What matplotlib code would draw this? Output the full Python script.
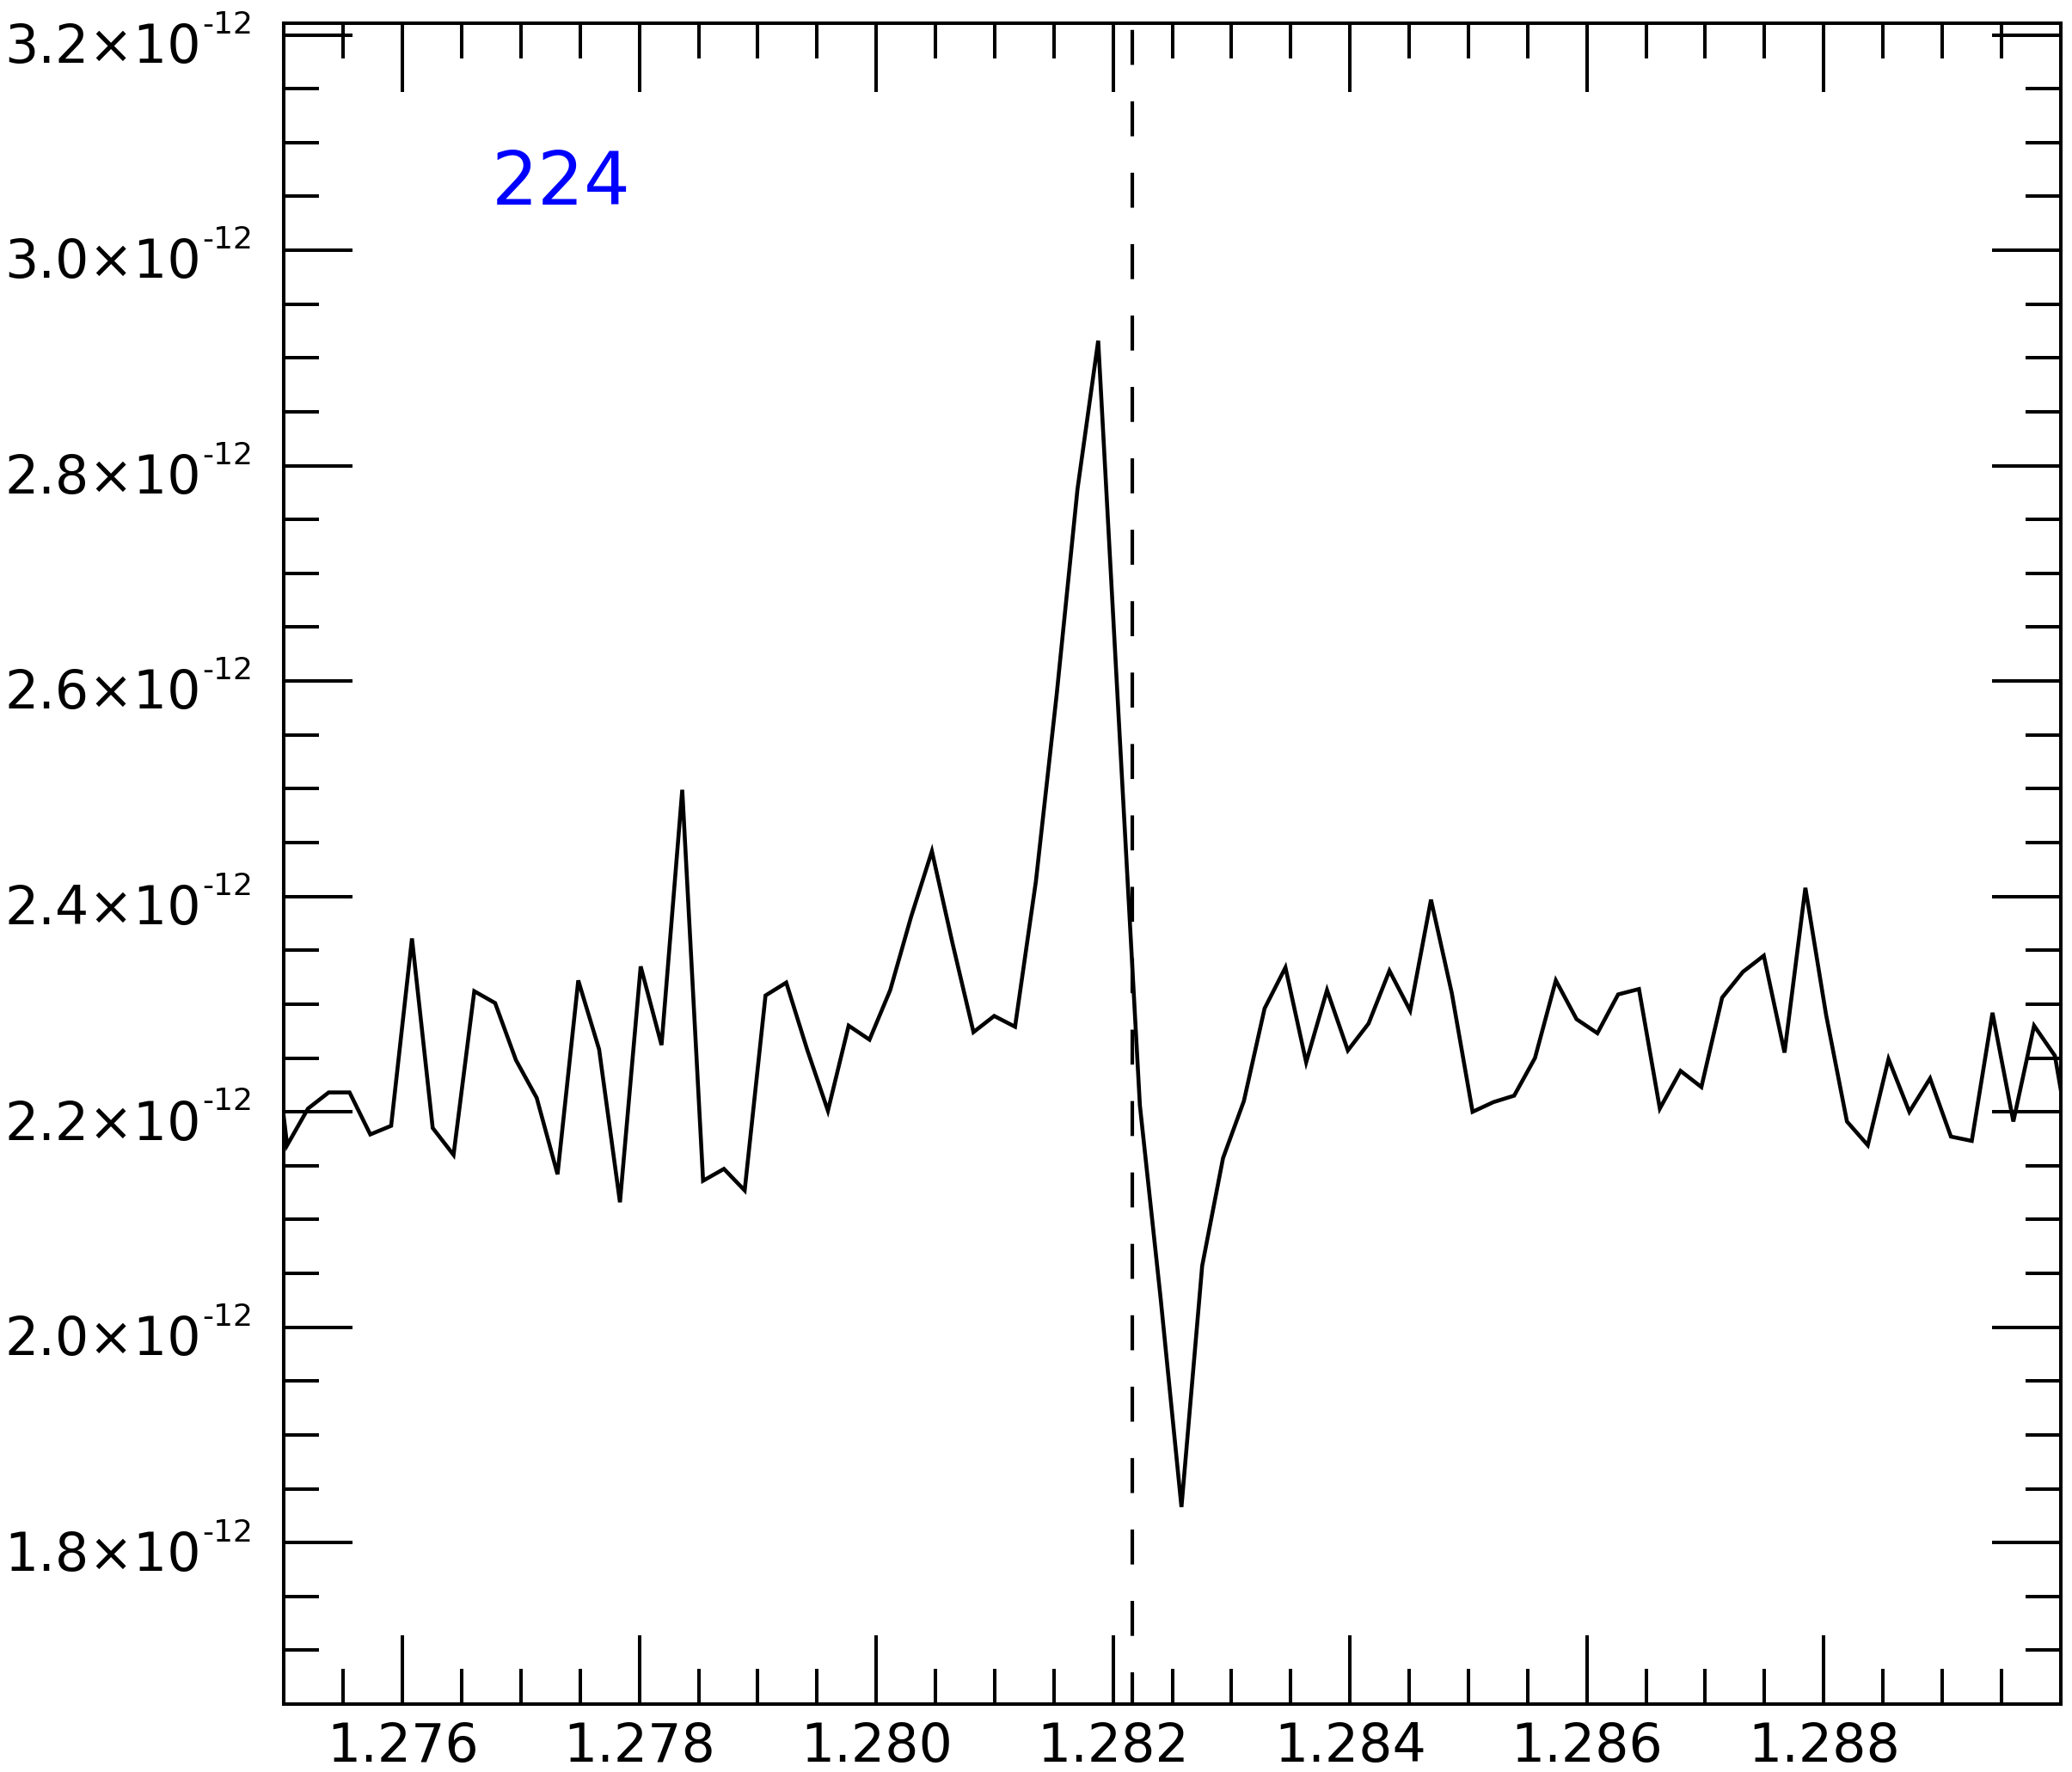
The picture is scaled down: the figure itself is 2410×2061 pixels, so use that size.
import matplotlib
matplotlib.use("Agg")
import numpy as np
import matplotlib.pyplot as plt
from matplotlib.ticker import FixedLocator, MultipleLocator, NullFormatter

plt.rcParams['font.family'] = ['DejaVu Sans']
plt.rcParams['lines.scale_dashes'] = False

# wavelength grid (micron)
wavelength = [1.274850, 1.275026, 1.275202, 1.275377, 1.275553, 1.275728, 1.275904, 1.276080,
              1.276255, 1.276431, 1.276606, 1.276782, 1.276958, 1.277133, 1.277309, 1.277484,
              1.277660, 1.277836, 1.278011, 1.278187, 1.278362, 1.278538, 1.278714, 1.278889,
              1.279065, 1.279240, 1.279416, 1.279592, 1.279767, 1.279943, 1.280118, 1.280294,
              1.280470, 1.280645, 1.280821, 1.280996, 1.281172, 1.281348, 1.281523, 1.281699,
              1.281874, 1.282050, 1.282226, 1.282401, 1.282577, 1.282752, 1.282928, 1.283104,
              1.283279, 1.283455, 1.283630, 1.283806, 1.283982, 1.284157, 1.284333, 1.284508,
              1.284684, 1.284860, 1.285035, 1.285211, 1.285386, 1.285562, 1.285738, 1.285913,
              1.286089, 1.286264, 1.286440, 1.286616, 1.286791, 1.286967, 1.287142, 1.287318,
              1.287494, 1.287669, 1.287845, 1.288020, 1.288196, 1.288372, 1.288547, 1.288723,
              1.288898, 1.289074, 1.289250, 1.289425, 1.289601, 1.289776, 1.289952, 1.290128]

# flux in units of 1e-12
flux = [2.330, 2.169, 2.203, 2.218, 2.218, 2.179, 2.187, 2.361,
        2.185, 2.160, 2.312, 2.301, 2.248, 2.213, 2.142, 2.322,
        2.258, 2.116, 2.335, 2.262, 2.499, 2.136, 2.147, 2.127,
        2.308, 2.320, 2.258, 2.201, 2.280, 2.267, 2.313, 2.381,
        2.442, 2.356, 2.274, 2.289, 2.279, 2.414, 2.587, 2.778,
        2.916, 2.560, 2.206, 2.027, 1.833, 2.057, 2.157, 2.210,
        2.296, 2.334, 2.246, 2.313, 2.257, 2.282, 2.331, 2.294,
        2.397, 2.310, 2.200, 2.209, 2.215, 2.250, 2.322, 2.286,
        2.273, 2.309, 2.314, 2.203, 2.238, 2.223, 2.306, 2.330,
        2.345, 2.255, 2.408, 2.290, 2.191, 2.169, 2.249, 2.200,
        2.231, 2.177, 2.173, 2.292, 2.191, 2.280, 2.252, 2.140]

line_center = 1.28216
tag = "224"

x_ticks = [1.276, 1.278, 1.280, 1.282, 1.284, 1.286, 1.288]
x_ticklabels = ["1.276", "1.278", "1.280", "1.282", "1.284", "1.286", "1.288"]
y_ticks = [1.8, 2.0, 2.2, 2.4, 2.6, 2.8, 3.0, 3.2]
y_mantissa = ["1.8", "2.0", "2.2", "2.4", "2.6", "2.8", "3.0", "3.2"]
y_exponent = "-12"

fig = plt.figure(figsize=(24.1, 20.61), dpi=100)
ax = fig.add_axes([0.1371, 0.0383, 0.8574, 0.9487])

scale = 1e-12
ax.plot(wavelength, np.array(flux) * scale, color='black', lw=3.3,
        solid_joinstyle='miter')
ax.axvline(line_center, color='black', lw=3.0, linestyle=(2.7, (29.3, 30.5)))

ax.set_xlim(1.275, 1.290)
ax.set_ylim(1.650 * scale, 3.211 * scale)

# ticks
ax.xaxis.set_major_locator(FixedLocator(x_ticks))
ax.xaxis.set_minor_locator(MultipleLocator(0.0005))
ax.set_xticklabels(x_ticklabels)
ax.yaxis.set_major_locator(FixedLocator([v * scale for v in y_ticks]))
ax.yaxis.set_minor_locator(MultipleLocator(0.05 * scale))
ax.yaxis.set_major_formatter(NullFormatter())
ax.tick_params(which='both', direction='in', top=True, right=True, width=2.9)
ax.tick_params(which='major', length=57.6)
ax.tick_params(which='minor', length=29.3)
ax.tick_params(axis='x', labelsize=44.5, pad=14)
for s in ax.spines.values():
    s.set_linewidth(2.9)

# y labels like "2.2×10^-12"
for v, m in zip(y_ticks, y_mantissa):
    ax.annotate(m + "\u00d710", xy=(5 / 2410, v * scale),
                xycoords=('figure fraction', 'data'),
                xytext=(0, -23.3), textcoords='offset points',
                fontsize=44.5, ha='left', va='baseline', annotation_clip=False)
    ax.annotate(y_exponent, xy=(235 / 2410, v * scale),
                xycoords=('figure fraction', 'data'),
                xytext=(0, 1.2), textcoords='offset points',
                fontsize=26, ha='left', va='baseline', annotation_clip=False)

ax.text(0.117, 0.892, tag, transform=ax.transAxes, color='#0000ff',
        fontsize=61, ha='left', va='baseline')

fig.savefig("out.png", dpi=100)
